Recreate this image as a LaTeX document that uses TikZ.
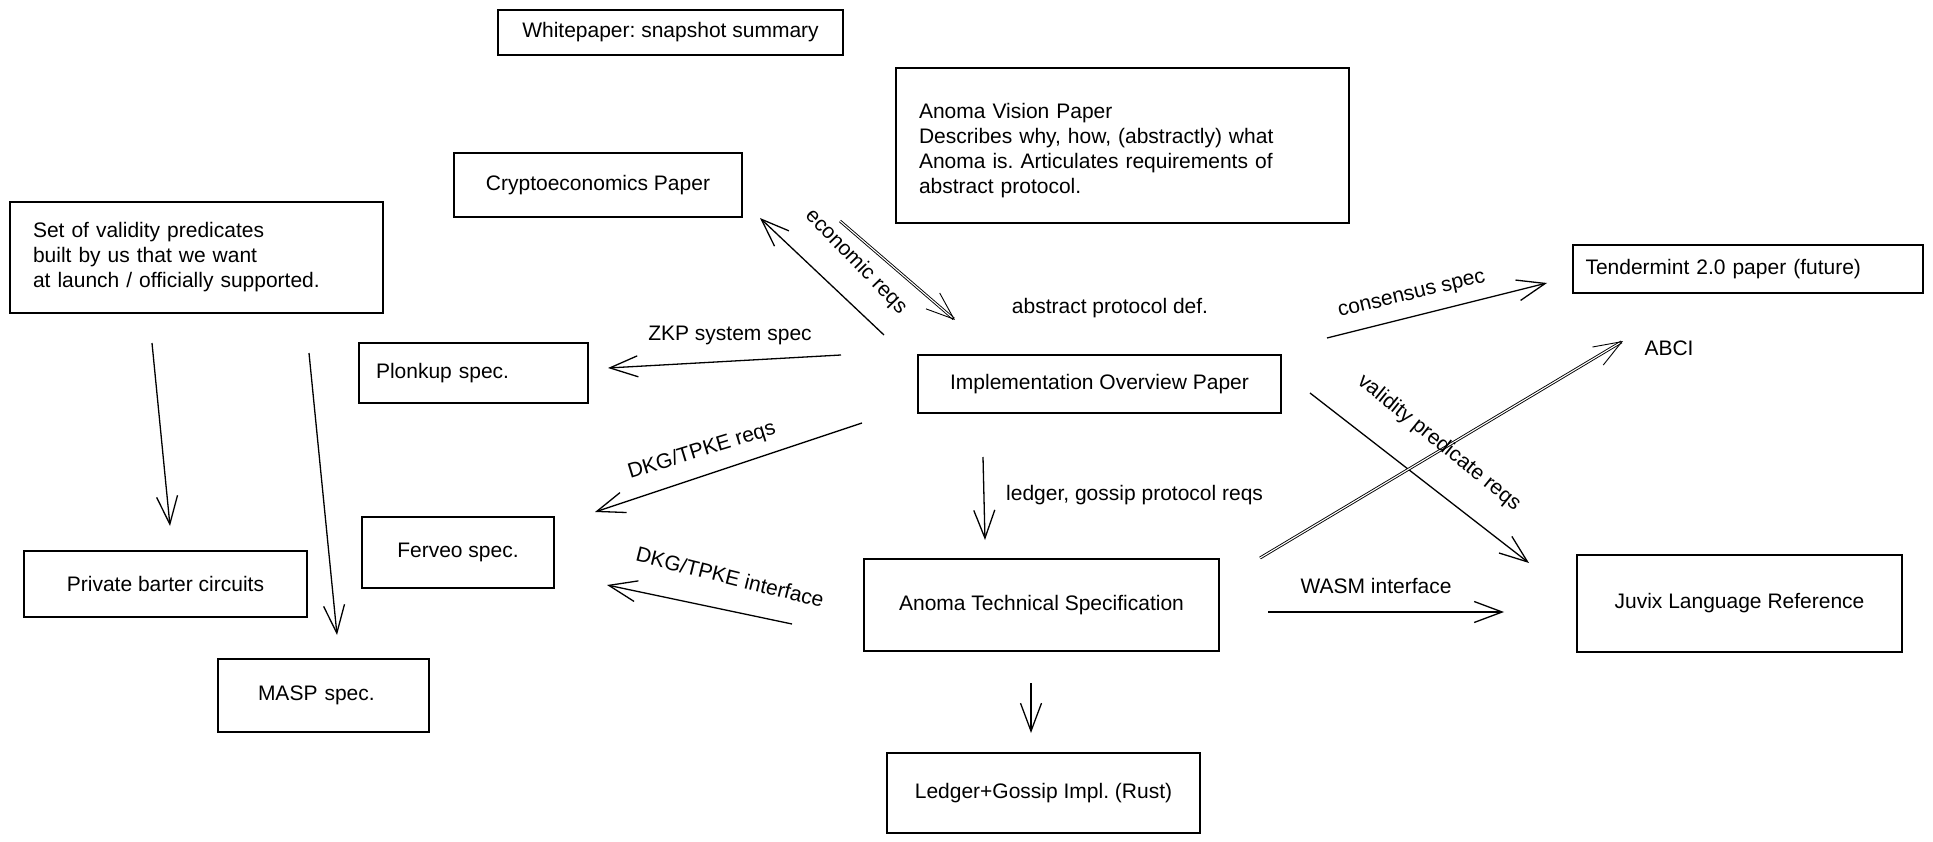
\documentclass[tikz,border=0pt]{standalone}
\usepackage{fontspec}
\setmainfont{Liberation Sans}
\usetikzlibrary{arrows.meta}
\frenchspacing
\begin{document}
\begin{tikzpicture}[x=1pt,y=-1pt,
  txt/.style={font=\fontsize{21}{25}\selectfont},
  box/.style={txt, draw=black, line width=1.5pt, inner sep=0pt, align=center},
  lbl/.style={txt, inner sep=0pt},
  arr/.style={line width=1.3pt, -{Straight Barb[length=28pt,width=21pt]}},
  darr/.style={line width=0.9pt, double, double distance=1.1pt, -{Straight Barb[length=28pt,width=21pt]}}
]
\fill[white] (0,0) rectangle (1933,842);
\useasboundingbox (0,0) rectangle (1933,842);

% boxes
\node[box, minimum width=345pt, minimum height=45pt] (wp) at (670.5,32.5) {Whitepaper: snapshot summary};
\node[box, text width=407pt, align=left, inner xsep=23pt, minimum height=155pt] (vision) at (1122.5,145.5) {\rule{0pt}{25pt}Anoma Vision Paper\\Describes why, how, (abstractly) what\\Anoma is. Articulates requirements of\\abstract protocol.};
\node[box, minimum width=288pt, minimum height=64pt] (crypto) at (598,185) {Cryptoeconomics Paper};
\node[box, text width=327pt, align=left, inner xsep=23pt, minimum height=111pt] (vpset) at (196.5,257.5) {Set of validity predicates\\built by us that we want\\at launch / officially supported.};
\node[box, text width=325pt, align=left, inner xsep=12.5pt, minimum height=48pt] (tm) at (1748,269) {Tendermint 2.0 paper (future)};
\node[box, text width=195pt, align=left, inner xsep=17pt, minimum height=60pt] (plonk) at (473.5,373) {Plonkup spec.};
\node[box, minimum width=363pt, minimum height=58pt] (impl) at (1099.5,384) {Implementation Overview Paper};
\node[box, minimum width=192pt, minimum height=71pt] (ferveo) at (458,552.5) {Ferveo spec.};
\node[box, minimum width=283pt, minimum height=66pt] (barter) at (165.5,584) {Private barter circuits};
\node[box, minimum width=355pt, minimum height=92pt] (tech) at (1041.5,605) {Anoma Technical Specification};
\node[box, minimum width=325pt, minimum height=97pt] (juvix) at (1739.5,603.5) {Juvix Language Reference};
\node[box, text width=131pt, align=left, inner xsep=40pt, minimum height=73pt] (masp) at (323.5,695.5) {MASP spec.};
\node[box, minimum width=313pt, minimum height=80pt] (ledger) at (1043.5,793) {Ledger+Gossip Impl. (Rust)};

% free texts
\node[lbl] (apd) at (1110,308) {abstract protocol def.};
\node[lbl] (abci) at (1669,348) {ABCI};

% arrow end points
\coordinate (econA) at (884,335);  \coordinate (econB) at (760,218);
\coordinate (visA) at (840,221);   \coordinate (visB) at (955,320);
\coordinate (zkpA) at (841,355);   \coordinate (zkpB) at (608,368);
\coordinate (dkgA) at (862,423);   \coordinate (dkgB) at (595,512);
\coordinate (dkiA) at (792,624);   \coordinate (dkiB) at (607,585);
\coordinate (lgA) at (983,457);    \coordinate (lgB) at (985,540);
\coordinate (csA) at (1327,338);   \coordinate (csB) at (1547,283);
\coordinate (vpA) at (1310,393);   \coordinate (vpB) at (1529,563);
\coordinate (abA) at (1260,558);   \coordinate (abB) at (1623,341);
\coordinate (wsA) at (1268,612);   \coordinate (wsB) at (1504,612);
\coordinate (liA) at (1031,683);   \coordinate (liB) at (1031,733);
\coordinate (pbA) at (152,343);    \coordinate (pbB) at (170,526);
\coordinate (msA) at (309,353);    \coordinate (msB) at (337,635);

% connectors
\draw[arr] (econA) -- (econB);
\draw[darr] (visA) -- (visB);
\draw[arr] (zkpA) -- (zkpB);
\draw[arr] (dkgA) -- (dkgB);
\draw[arr] (dkiA) -- (dkiB);
\draw[arr] (lgA) -- (lgB);
\draw[arr] (csA) -- (csB);
\draw[arr] (vpA) -- (vpB);
\draw[darr] (abA) -- (abB);
\draw[arr] (wsA) -- (wsB);
\draw[arr] (liA) -- (liB);
\draw[arr] (pbA) -- (pbB);
\draw[arr] (msA) -- (msB);

% connector labels
\node[lbl, rotate=-46] at (856,262) {economic reqs};
\node[lbl] at (730,335) {ZKP system spec};
\node[lbl, rotate=17] at (702,451) {DKG/TPKE reqs};
\node[lbl, rotate=-14] at (730,577) {DKG/TPKE interface};
\node[lbl, anchor=west] at (1006,495) {ledger, gossip protocol reqs};
\node[lbl, rotate=13.5] at (1412,296) {consensus spec};
\node[lbl, rotate=-39] at (1439,443) {validity predicate reqs};
\node[lbl] at (1376,586) {WASM interface};
\end{tikzpicture}
\end{document}
